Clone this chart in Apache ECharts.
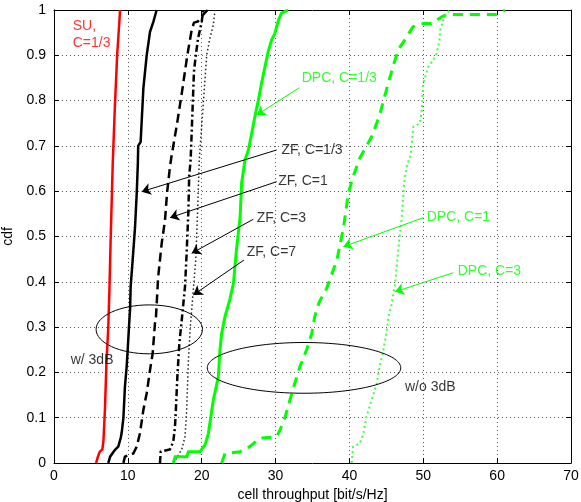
<!DOCTYPE html>
<html>
<head>
<meta charset="utf-8">
<script src="https://cdn.jsdelivr.net/npm/echarts@6/dist/echarts.min.js"></script>
<style>html,body{margin:0;padding:0;background:#fff}#c{width:581px;height:502px}</style>
</head>
<body>
<div id="c"></div>
<script>
// ---- data (x = cell throughput, y = cdf) ----
const suC13 = [[5.7,0],[5.9,0.012],[6.2,0.025],[6.55,0.03],[6.7,0.05],[6.9,0.12],[7.1,0.22],[7.35,0.3],[7.5,0.38],[7.65,0.48],[7.95,0.66],[8.25,0.79],[8.55,0.9],[8.95,1]];
const zfC13 = [[7.35,0],[7.6,0.014],[7.95,0.022],[8.26,0.029],[8.7,0.036],[9.03,0.055],[9.16,0.066],[9.4,0.1],[9.6,0.168],[9.84,0.213],[9.98,0.25],[10.15,0.3],[10.3,0.34],[10.38,0.39],[10.65,0.448],[10.97,0.52],[11.2,0.595],[11.35,0.66],[11.4,0.70],[11.73,0.709],[12.1,0.827],[12.55,0.9],[13.0,0.952],[13.45,0.974],[13.9,1]];
const zfC1 = [[9.4,0],[9.6,0.014],[10.74,0.021],[11.2,0.036],[11.64,0.066],[12.1,0.117],[12.55,0.154],[13.0,0.205],[13.36,0.242],[13.67,0.308],[13.8,0.32],[14.1,0.41],[14.58,0.485],[15.03,0.536],[15.3,0.595],[15.7,0.654],[15.9,0.676],[16.7,0.753],[17.4,0.827],[18.05,0.9],[18.64,0.956],[18.95,0.972],[19.5,0.975],[20.2,0.99],[20.8,1]];
const zfC3 = [[14.35,0],[14.45,0.025],[15.7,0.03],[16.15,0.047],[16.38,0.08],[16.5,0.117],[16.7,0.19],[16.97,0.264],[17.3,0.316],[17.74,0.39],[17.96,0.463],[18.2,0.558],[18.3,0.632],[18.5,0.669],[18.78,0.79],[18.95,0.864],[19.2,0.9],[19.5,0.937],[20.0,0.974],[20.2,1]];
const zfC7 = [[16.2,0],[17.3,0.03],[17.74,0.058],[17.96,0.117],[18.2,0.227],[18.45,0.3],[18.8,0.37],[19.2,0.45],[19.45,0.56],[19.67,0.669],[20.2,0.79],[20.67,0.9],[21.1,0.937],[21.57,0.967],[21.8,1]];
const dpcC13 = [[16.15,0],[16.4,0.014],[17.97,0.014],[18.2,0.025],[19.77,0.025],[20.0,0.03],[20.45,0.04],[20.9,0.065],[21.57,0.139],[22.25,0.19],[22.47,0.25],[22.7,0.286],[23.15,0.323],[23.8,0.36],[24.3,0.397],[24.7,0.47],[25.2,0.544],[25.4,0.617],[25.86,0.669],[26.3,0.69],[26.77,0.728],[27.2,0.765],[27.66,0.8],[28.1,0.838],[28.57,0.875],[29.0,0.908],[29.47,0.934],[29.9,0.948],[30.4,0.978],[30.8,0.993],[31.7,1]];
const dpcC1 = [[22.7,0],[23.15,0.021],[25.2,0.025],[26.5,0.036],[27.9,0.055],[30.15,0.058],[30.6,0.073],[31.3,0.102],[31.95,0.139],[32.6,0.176],[33.3,0.213],[34.2,0.25],[34.9,0.286],[35.3,0.323],[35.9,0.355],[36.9,0.385],[38.3,0.448],[39.2,0.52],[39.85,0.595],[40.5,0.632],[41.4,0.673],[43.0,0.72],[44.1,0.768],[44.6,0.8],[45.26,0.838],[45.9,0.875],[46.6,0.912],[47.5,0.934],[48.6,0.963],[50.0,0.97],[51.1,0.97],[52.5,0.985],[53.2,0.99],[59.9,0.99],[61.1,1]];
const dpcC3 = [[40.3,0],[40.5,0.036],[41.4,0.043],[41.9,0.065],[42.3,0.102],[43.0,0.139],[43.7,0.176],[44.1,0.213],[44.6,0.25],[45.0,0.286],[45.3,0.323],[45.7,0.35],[46.2,0.397],[46.6,0.47],[47.1,0.544],[47.4,0.617],[47.75,0.654],[48.3,0.68],[48.65,0.742],[49.55,0.75],[49.8,0.78],[50.0,0.838],[50.7,0.875],[51.35,0.89],[51.8,0.904],[52.2,0.934],[52.3,0.956],[52.7,0.978],[53.2,0.993],[53.6,1]];

// annotations: [x, y, text, color]
const labels = [
  [2.53, 0.945, 'SU,\nC=1/3', '#ff0000'],
  [30.8, 0.691, 'ZF, C=1/3', '#000000'],
  [30.37, 0.6225, 'ZF, C=1', '#000000'],
  [27.44, 0.540, 'ZF, C=3', '#000000'],
  [26.09, 0.4665, 'ZF, C=7', '#000000'],
  [33.54, 0.8506, 'DPC, C=1/3', '#00ff00'],
  [50.46, 0.5437, 'DPC, C=1', '#00ff00'],
  [54.66, 0.4245, 'DPC, C=3', '#00ff00'],
  [2.26, 0.2274, 'w/ 3dB', '#000000'],
  [47.52, 0.1684, 'w/o 3dB', '#000000']
];
// arrows: [x1, y1, x2(tip), y2(tip), color]
const arrows = [
  [30.15, 0.691, 11.87, 0.599, '#000000'],
  [30.15, 0.621, 15.7, 0.5415, '#000000'],
  [26.98, 0.538, 18.64, 0.463, '#000000'],
  [25.72, 0.448, 18.86, 0.371, '#000000'],
  [33.21, 0.8285, 27.44, 0.768, '#00ff00'],
  [50.0, 0.5415, 39.17, 0.4775, '#00ff00'],
  [54.06, 0.420, 46.17, 0.378, '#00ff00']
];
// ellipses: [cx, cy, rx, ry]
const ellipses = [
  [12.9, 0.295, 7.2, 0.054],
  [33.85, 0.21, 13.1, 0.056]
];

const FONT = 'Liberation Sans, Arial, Helvetica, sans-serif';

function line(name, data, color, width, type) {
  return {
    type: 'line', name: name, data: data, showSymbol: false, symbol: 'none',
    lineStyle: { color: color, width: width, type: type, cap: 'butt', join: 'miter' },
    itemStyle: { color: color }, silent: true, z: 3
  };
}

const axisCommon = {
  axisLine: { show: true, onZero: false, lineStyle: { color: '#000', width: 1 } },
  axisTick: { show: true, inside: true, length: 5, lineStyle: { color: '#000' } }
};

const chart = echarts.init(document.getElementById('c'), null, { renderer: 'canvas' });
chart.setOption({
  animation: false,
  backgroundColor: '#fff',
  grid: { left: 54, top: 10, right: 10, bottom: 39, containLabel: false, outerBoundsMode: 'none' },
  xAxis: [
    Object.assign({
      type: 'value', min: 0, max: 70, interval: 10, position: 'bottom',
      name: 'cell throughput [bit/s/Hz]', nameLocation: 'middle', nameGap: 23,
      nameTextStyle: { fontFamily: FONT, fontSize: 14, color: '#000' },
      axisLabel: { fontFamily: FONT, fontSize: 14, color: '#000', margin: 6 },
      splitLine: { show: true, lineStyle: { color: '#555', width: 1, type: [1, 3] } }
    }, axisCommon),
    Object.assign({
      type: 'value', min: 0, max: 70, interval: 10, position: 'top',
      axisLabel: { show: false }, splitLine: { show: false }
    }, axisCommon)
  ],
  yAxis: [
    Object.assign({
      type: 'value', min: 0, max: 1, interval: 0.1, position: 'left',
      name: 'cdf', nameLocation: 'middle', nameGap: 33,
      nameTextStyle: { fontFamily: FONT, fontSize: 14, color: '#000' },
      axisLabel: { fontFamily: FONT, fontSize: 14, color: '#000', margin: 8 },
      splitLine: { show: true, lineStyle: { color: '#555', width: 1, type: [1, 3] } }
    }, axisCommon),
    Object.assign({
      type: 'value', min: 0, max: 1, interval: 0.1, position: 'right',
      axisLabel: { show: false }, splitLine: { show: false }
    }, axisCommon)
  ],
  series: [
    line('SU, C=1/3', suC13, '#ff0000', 2.5, 'solid'),
    line('ZF, C=1/3', zfC13, '#000000', 2.5, 'solid'),
    line('ZF, C=1', zfC1, '#000000', 2.5, [9, 5]),
    line('ZF, C=3', zfC3, '#000000', 2.5, [7, 3, 2, 3]),
    line('ZF, C=7', zfC7, '#222222', 1.5, [1.5, 2.5]),
    line('DPC, C=1/3', dpcC13, '#00ff00', 3, 'solid'),
    line('DPC, C=1', dpcC1, '#00ff00', 3, [10, 7]),
    line('DPC, C=3', dpcC3, '#44ff44', 2, [2, 3]),
    {
      type: 'custom', silent: true, z: 4,
      data: ellipses,
      renderItem: function (params, api) {
        const c = api.coord([api.value(0), api.value(1)]);
        const s = api.size([api.value(2), api.value(3)]);
        return {
          type: 'ellipse',
          shape: { cx: c[0], cy: c[1], rx: s[0], ry: s[1] },
          style: { fill: 'none', stroke: '#000', lineWidth: 1 }
        };
      }
    },
    {
      type: 'lines', coordinateSystem: 'cartesian2d', silent: true, z: 5,
      symbol: ['none', 'arrow'], symbolSize: 9,
      lineStyle: { width: 1, opacity: 1, curveness: 0 },
      data: arrows.map(a => ({ coords: [[a[0], a[1]], [a[2], a[3]]], lineStyle: { color: a[4] } }))
    },
    {
      type: 'scatter', silent: true, z: 6, symbolSize: 0,
      data: labels.map(l => ({
        value: [l[0], l[1]],
        label: {
          show: true, position: 'right', distance: 0, formatter: l[2],
          color: l[3], fontFamily: FONT, fontSize: 14, lineHeight: 17
        }
      }))
    }
  ]
});
</script>
</body>
</html>
